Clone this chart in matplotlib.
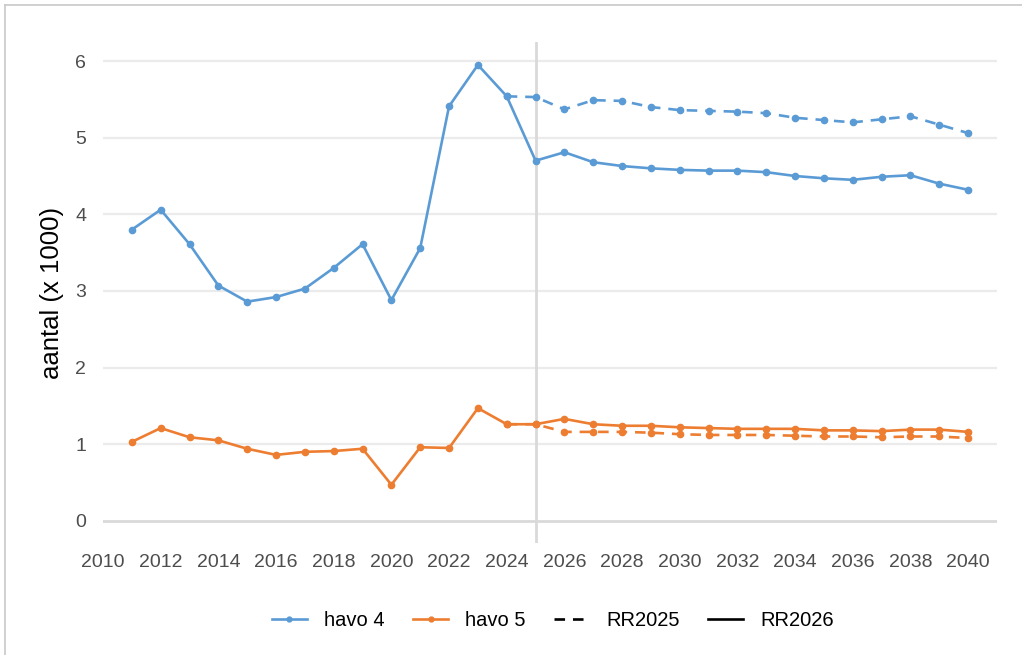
import numpy as np
import matplotlib.pyplot as plt
from matplotlib.lines import Line2D

plt.rcParams['font.family'] = ['Liberation Sans', 'DejaVu Sans']

# RR2026 (solid): realisation + projection
years_26 = list(range(2011, 2041))
havo4_26 = [3.80, 4.06, 3.61, 3.07, 2.86, 2.92, 3.03, 3.30, 3.61, 2.88,
            3.56, 5.41, 5.95, 5.54, 4.70, 4.81, 4.68, 4.63, 4.60, 4.58,
            4.57, 4.57, 4.55, 4.50, 4.47, 4.45, 4.49, 4.51, 4.40, 4.32]
havo5_26 = [1.03, 1.21, 1.09, 1.05, 0.94, 0.86, 0.90, 0.91, 0.94, 0.47,
            0.96, 0.95, 1.47, 1.26, 1.26, 1.33, 1.26, 1.24, 1.24, 1.22,
            1.21, 1.20, 1.20, 1.20, 1.18, 1.18, 1.17, 1.19, 1.19, 1.16]

# RR2025 (dashed): projection
years_25 = list(range(2024, 2041))
havo4_25 = [5.54, 5.53, 5.37, 5.49, 5.48, 5.40, 5.36, 5.35, 5.34, 5.32,
            5.26, 5.23, 5.20, 5.24, 5.28, 5.17, 5.06]
havo5_25 = [1.26, 1.26, 1.16, 1.16, 1.16, 1.15, 1.13, 1.12, 1.12, 1.12,
            1.11, 1.10, 1.10, 1.09, 1.10, 1.10, 1.08]

blue = '#5B9BD5'
orange = '#ED7D31'
lw = 1.9
ms = 4.5
dash = (0, (4, 3))

fig = plt.figure(figsize=(10.22, 6.55), dpi=100)
ax = fig.add_axes([0.1008, 0.171, 0.8747, 0.765])

# border round the figure (left and top visible)
fig.add_artist(Line2D([0.005, 0.005], [0.0, 0.992], color='#c8c8c8', lw=1.2,
                      transform=fig.transFigure))
fig.add_artist(Line2D([0.005, 1.0], [0.992, 0.992], color='#c8c8c8', lw=1.2,
                      transform=fig.transFigure))

for yv in range(0, 7):
    ax.axhline(yv, color='#d9d9d9' if yv == 0 else '#ebebeb',
               lw=2.0 if yv == 0 else 1.6, zorder=0)
ax.axvline(2025, color='#d9d9d9', lw=2.0, zorder=1)

ax.plot(years_25, havo4_25, color=blue, lw=lw, ls=dash, marker='o', ms=ms, zorder=3)
ax.plot(years_25, havo5_25, color=orange, lw=lw, ls=dash, marker='o', ms=ms, zorder=3)
ax.plot(years_26, havo4_26, color=blue, lw=lw, marker='o', ms=ms, zorder=4)
ax.plot(years_26, havo5_26, color=orange, lw=lw, marker='o', ms=ms, zorder=4)

ax.set_xlim(2010, 2041)
ax.set_ylim(-0.29, 6.25)
ax.set_xticks(range(2010, 2041, 2))
ax.set_yticks(range(0, 7))
ax.tick_params(length=0, labelsize=14, colors='#4d4d4d', pad=8)
ax.tick_params(axis='y', pad=12)
for s in ax.spines.values():
    s.set_visible(False)
ax.set_ylabel('aantal (x 1000)', fontsize=18.5, color='black', labelpad=8)

handles = [
    Line2D([], [], color=blue, lw=lw, marker='o', ms=3.5),
    Line2D([], [], color=orange, lw=lw, marker='o', ms=3.5),
    Line2D([], [], color='black', lw=lw, ls=dash),
    Line2D([], [], color='black', lw=lw),
]
labels = ['havo 4', 'havo 5', 'RR2025', 'RR2026']
fig.legend(handles, labels, loc='center', bbox_to_anchor=(0.541, 0.053), ncol=4,
           frameon=False, fontsize=14.5, handlelength=1.75, columnspacing=1.4,
           handletextpad=0.85)

fig.savefig('out.png', dpi=100)
